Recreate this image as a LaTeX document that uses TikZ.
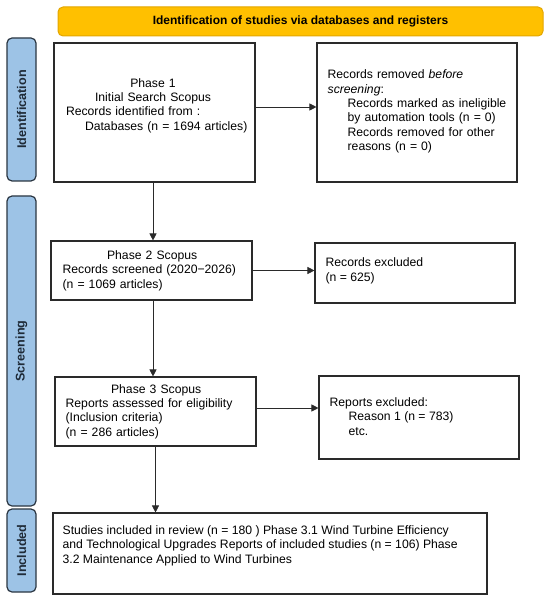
\documentclass[tikz,border=0pt]{standalone}
\usepackage{fontspec}
\setmainfont{Liberation Sans}
\usetikzlibrary{arrows.meta,positioning}
\definecolor{bannerfill}{HTML}{FFC000}
\definecolor{bannerdraw}{HTML}{E3A600}
\definecolor{sidefill}{HTML}{9DC3E6}
\definecolor{sidedraw}{HTML}{2B3642}
\definecolor{sidetext}{HTML}{1F2B38}
\definecolor{boxdraw}{HTML}{2A2A2A}
\tikzset{
  box/.style={draw=boxdraw, line width=1.1pt, fill=white, inner sep=0pt},
  txt/.style={inner sep=0pt, font=\fontsize{12.2}{14.4}\selectfont, align=left},
  side/.style={draw=sidedraw, line width=1.2pt, fill=sidefill, rounded corners=5pt, inner sep=0pt},
  sidelabel/.style={inner sep=0pt, rotate=90, text=sidetext, font=\bfseries\fontsize{12.6}{14}\selectfont},
  flow/.style={draw=boxdraw, line width=0.7pt, -{Triangle[length=7pt,width=7pt]}},
}
\begin{document}
\begin{tikzpicture}[x=1pt,y=-1pt]
\useasboundingbox[fill=white] (0,0) rectangle (550,601);
% banner
\node[draw=bannerdraw, line width=1pt, fill=bannerfill, rounded corners=5pt,
      minimum width=485pt, minimum height=29pt, inner sep=0pt,
      font=\bfseries\fontsize{12}{14}\selectfont] (banner) at (300.5,21.5)
      {Identification of studies via databases and registers};
% side bars
\node[side, minimum width=29pt, minimum height=143pt] (sid) at (21.5,109.5) {};
\node[sidelabel] at (sid) {Identification};
\node[side, minimum width=29pt, minimum height=310pt] (sscr) at (21.5,351) {};
\node[sidelabel] at (sscr) {Screening};
\node[side, minimum width=29pt, minimum height=83pt] (sinc) at (21.5,550.5) {};
\node[sidelabel] at (sinc) {Included};
% boxes
\node[box, minimum width=201pt, minimum height=139pt] (p1) at (154.5,112.5) {};
\node[box, minimum width=200pt, minimum height=139pt] (rm) at (417,112.5) {};
\node[box, minimum width=201pt, minimum height=59pt] (p2) at (151.5,270.5) {};
\node[box, minimum width=200pt, minimum height=60pt] (ex) at (415,273) {};
\node[box, minimum width=201pt, minimum height=69pt] (p3) at (155.5,411.5) {};
\node[box, minimum width=200pt, minimum height=83pt] (rex) at (419,417.5) {};
\node[box, minimum width=434pt, minimum height=81pt] (inc) at (270,553.5) {};
% texts
\node[txt, text width=180pt, yshift=7pt] (p1t) at ([xshift=-1.5pt]p1) {%
  {\centering Phase 1\\Initial Search Scopus\par}
  \hspace*{3pt}\mbox{Records identified from :}\\
  \hspace*{22pt}\mbox{Databases (n = 1694 articles)}};
\node[txt, anchor=west, text width=183pt] (rmt) at ([xshift=11pt,yshift=1pt]rm.west) {%
  Records removed \textit{before}\\
  \textit{screening}:\\
  \hspace*{20pt}\makebox[161pt][s]{Records marked as ineligible}\\
  \hspace*{20pt}\makebox[161pt][s]{by automation tools (n = 0)}\\
  \hspace*{20pt}\makebox[161pt][s]{Records removed for other}\\
  \hspace*{20pt}\mbox{reasons (n = 0)}};
\node[txt, anchor=west, text width=179pt] (p2t) at ([xshift=12pt]p2.west) {%
  {\centering Phase 2 Scopus\par}
  \mbox{Records screened (2020−2026)}\\
  \mbox{(n = 1069 articles)}};
\node[txt, anchor=west] (ext) at ([xshift=11pt,yshift=2pt]ex.west) {%
  Records excluded\\
  (n = 625)};
\node[txt, anchor=west, text width=181pt] (p3t) at ([xshift=11pt]p3.west) {%
  {\centering Phase 3 Scopus\par}
  \mbox{Reports assessed for eligibility}\\
  \mbox{(Inclusion criteria)}\\
  \mbox{(n = 286 articles)}};
\node[txt, anchor=west] (rext) at ([xshift=11pt,yshift=1pt]rex.west) {%
  Reports excluded:\\
  \hspace*{19pt}Reason 1 (n = 783)\\
  \hspace*{19pt}etc.};
\node[txt, anchor=north west] (inct) at ([xshift=10pt,yshift=-13pt]inc.north west) {%
  Studies included in review (n = 180 ) Phase 3.1 Wind Turbine Efficiency\\
  and Technological Upgrades Reports of included studies (n = 106) Phase\\
  3.2 Maintenance Applied to Wind Turbines};
% connectors
\draw[flow] ([xshift=-1.5pt]p1.south) -- ([xshift=-1.5pt]p1.south |- p2.north);
\draw[flow] ([xshift=1.5pt]p2.south) -- ([xshift=1.5pt]p2.south |- p3.north);
\draw[flow] (p3.south) -- (p3.south |- inc.north);
\draw[flow] ([yshift=5.5pt]p1.east) -- ([yshift=5.5pt]p1.east -| rm.west);
\draw[flow] (p2.east) -- (p2.east -| ex.west);
\draw[flow] ([yshift=3.5pt]p3.east) -- ([yshift=3.5pt]p3.east -| rex.west);
\end{tikzpicture}
\end{document}
